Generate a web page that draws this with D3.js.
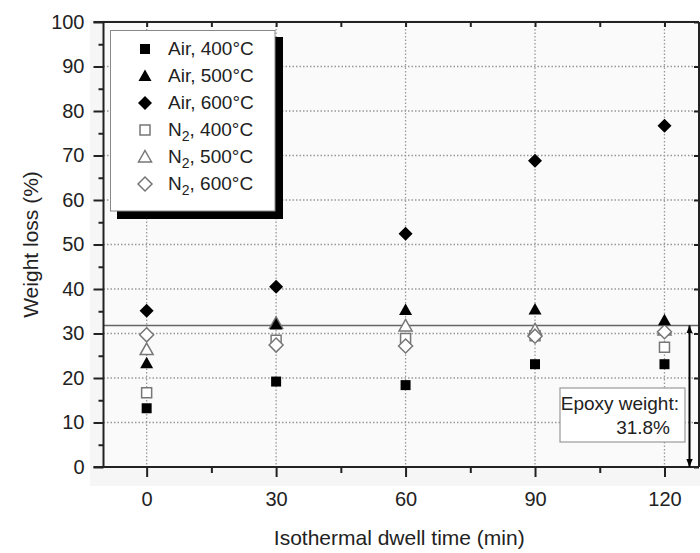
<!DOCTYPE html>
<html>
<head>
<meta charset="utf-8">
<script src="https://cdn.jsdelivr.net/npm/d3@7"></script>
<style>
  html, body { margin: 0; padding: 0; background: #fff; }
  svg { display: block; font-family: "Liberation Sans", Arial, sans-serif; }
</style>
</head>
<body>
<svg id="chart" width="700" height="553"></svg>
<script>
// ---- data ----
const times = [0, 30, 60, 90, 120];
const air400 = [13.2, 19.2, 18.4, 23.1, 23.1];
const air500 = [23.3, 32.0, 35.3, 35.4, 33.0];
const air600 = [35.1, 40.5, 52.4, 68.8, 76.7];
const n2_400 = [16.7, 28.5, 28.9, 29.5, 26.9];
const n2_500 = [26.4, 32.3, 31.7, 30.8, 30.8];
const n2_600 = [29.7, 27.4, 27.2, 29.4, 30.4];
const epoxyWeight = 31.8;
const xTicks = [0, 30, 60, 90, 120];
const xMinorTicks = [15, 45, 75, 105];
const yTicks = [0, 10, 20, 30, 40, 50, 60, 70, 80, 90, 100];
const yMinorTicks = [5, 15, 25, 35, 45, 55, 65, 75, 85, 95];
const xTitle = "Isothermal dwell time (min)";
const yTitle = "Weight loss (%)";

const series = [
  { gas: "Air", temp: "400°C", shape: "square", filled: true, values: air400 },
  { gas: "Air", temp: "500°C", shape: "triangle", filled: true, values: air500 },
  { gas: "Air", temp: "600°C", shape: "diamond", filled: true, values: air600 },
  { gas: "N", sub: "2", temp: "400°C", shape: "square", filled: false, values: n2_400 },
  { gas: "N", sub: "2", temp: "500°C", shape: "triangle", filled: false, values: n2_500 },
  { gas: "N", sub: "2", temp: "600°C", shape: "diamond", filled: false, values: n2_600 }
];

// ---- layout ----
const svg = d3.select("#chart");
const L = 103.5, R = 699, T = 22, B = 467;
const x = d3.scaleLinear().domain([-10, 128]).range([L, R]);
const y = d3.scaleLinear().domain([0, 100]).range([B, T]);
const FONT = "'Liberation Sans', Arial, sans-serif";

// background panel
svg.append("rect").attr("x", 90).attr("y", 20).attr("width", 610).attr("height", 466)
  .attr("fill", "#f6f6f6");
svg.append("rect").attr("x", L).attr("y", T).attr("width", R - L).attr("height", B - T)
  .attr("fill", "#fafafa");

// grid
const grid = svg.append("g").attr("stroke", "#999").attr("stroke-width", 1.3)
  .attr("stroke-dasharray", "1.5,2");
grid.selectAll("line.h").data(yTicks.filter(d => d > 0 && d < 100)).join("line")
  .attr("x1", L).attr("x2", R).attr("y1", d => y(d)).attr("y2", d => y(d));
grid.selectAll("line.v").data(xTicks).join("line")
  .attr("y1", T).attr("y2", B).attr("x1", d => x(d)).attr("x2", d => x(d));

// epoxy line
svg.append("line").attr("x1", L).attr("x2", R).attr("y1", y(epoxyWeight)).attr("y2", y(epoxyWeight))
  .attr("stroke", "#666").attr("stroke-width", 1.3);

// axes
const axisColor = "#222";
const gB = svg.append("g").attr("transform", `translate(0,${B})`)
  .call(d3.axisBottom(x).tickValues(xTicks).tickSize(10).tickPadding(15).tickFormat(d3.format("d")));
const gBm = svg.append("g").attr("transform", `translate(0,${B})`)
  .call(d3.axisBottom(x).tickValues(xMinorTicks).tickSize(6).tickFormat(""));
const gL = svg.append("g").attr("transform", `translate(${L},0)`)
  .call(d3.axisLeft(y).tickValues(yTicks).tickSize(10).tickPadding(9).tickFormat(d3.format("d")));
const gLm = svg.append("g").attr("transform", `translate(${L},0)`)
  .call(d3.axisLeft(y).tickValues(yMinorTicks).tickSize(5).tickFormat(""));
const gT = svg.append("g").attr("transform", `translate(0,${T})`)
  .call(d3.axisBottom(x).tickValues(xTicks.concat(xMinorTicks)).tickSize(5).tickFormat(""));
const gR = svg.append("g").attr("transform", `translate(${R},0)`)
  .call(d3.axisLeft(y).tickValues(yTicks).tickSize(5).tickFormat(""));

[gB, gBm, gL, gLm, gT, gR].forEach(g => {
  g.select(".domain").remove();
  g.selectAll(".tick line").attr("stroke", axisColor).attr("stroke-width", 2);
  g.selectAll(".tick text").attr("fill", "#222").attr("font-size", 20).attr("font-family", FONT);
});
// axis frame lines
svg.append("line").attr("x1", L - 10).attr("x2", R).attr("y1", T).attr("y2", T).attr("stroke", axisColor).attr("stroke-width", 2);
svg.append("line").attr("x1", L).attr("x2", L).attr("y1", T).attr("y2", B).attr("stroke", axisColor).attr("stroke-width", 2);
svg.append("line").attr("x1", L - 10).attr("x2", R).attr("y1", B).attr("y2", B).attr("stroke", axisColor).attr("stroke-width", 2);
svg.append("line").attr("x1", R).attr("x2", R).attr("y1", T).attr("y2", B).attr("stroke", axisColor).attr("stroke-width", 2);

// axis titles
svg.append("text").attr("x", (L + R) / 2 - 2).attr("y", 545).attr("text-anchor", "middle")
  .attr("font-size", 21).attr("fill", "#222").text(xTitle);
svg.append("text").attr("transform", `translate(38,${(T + B) / 2}) rotate(-90)`)
  .attr("text-anchor", "middle").attr("font-size", 21).attr("fill", "#222").text(yTitle);

// marker shapes
function shapePath(shape) {
  if (shape === "square") return "M-5,-5H5V5H-5Z";
  if (shape === "triangle") return "M0,-6.5L6.5,5L-6.5,5Z";
  return "M0,-7L7,0L0,7L-7,0Z";
}
function styleMarker(sel, s) {
  if (s.filled) sel.attr("fill", "#000").attr("stroke", "none");
  else sel.attr("fill", "#fff").attr("stroke", "#777").attr("stroke-width", 1.5);
}

// arrow (epoxy weight)
const defs = svg.append("defs");
defs.append("marker").attr("id", "ah").attr("viewBox", "0 0 10 10").attr("refX", 10).attr("refY", 5)
  .attr("markerWidth", 8).attr("markerHeight", 8).attr("markerUnits", "userSpaceOnUse")
  .attr("orient", "auto-start-reverse")
  .append("path").attr("d", "M0,1L10,5L0,9Z").attr("fill", "#000");

// points (open markers first, filled on top)
const order = [3, 4, 5, 0, 1, 2];
order.forEach(i => {
  const s = series[i];
  const g = svg.append("g");
  g.selectAll("path").data(s.values.map((v, j) => ({ t: times[j], v }))).join("path")
    .attr("d", shapePath(s.shape))
    .attr("transform", d => `translate(${x(d.t)},${y(d.v)})`)
    .call(sel => styleMarker(sel, s));
});

svg.append("line").attr("x1", x(125.8)).attr("x2", x(125.8))
  .attr("y1", y(epoxyWeight)).attr("y2", y(0))
  .attr("stroke", "#000").attr("stroke-width", 2)
  .attr("marker-start", "url(#ah)").attr("marker-end", "url(#ah)");

// epoxy box
const box = svg.append("g");
box.append("rect").attr("x", 560).attr("y", 388).attr("width", 125).attr("height", 54)
  .attr("fill", "#fff").attr("stroke", "#999").attr("stroke-width", 1.2);
box.append("text").attr("x", 679).attr("y", 410).attr("text-anchor", "end")
  .attr("font-size", 19).attr("fill", "#222").text("Epoxy weight:");
box.append("text").attr("x", 670).attr("y", 434).attr("text-anchor", "end")
  .attr("font-size", 19).attr("fill", "#222").text(epoxyWeight + "%");

// legend
const lg = svg.append("g");
lg.append("rect").attr("x", 117).attr("y", 37).attr("width", 166).attr("height", 182).attr("fill", "#000");
lg.append("rect").attr("x", 110.5).attr("y", 30.5).attr("width", 164.5).attr("height", 180.5)
  .attr("fill", "#fff").attr("stroke", "#888").attr("stroke-width", 1);
series.forEach((s, i) => {
  const cy = 49 + i * 27;
  const m = lg.append("path").attr("d", shapePath(s.shape)).attr("transform", `translate(145,${cy})`);
  styleMarker(m, s);
  const t = lg.append("text").attr("x", 168).attr("y", cy + 6).attr("font-size", 19).attr("fill", "#222");
  if (s.sub) {
    t.append("tspan").text(s.gas);
    t.append("tspan").attr("font-size", 14).attr("dy", 5).text(s.sub);
    t.append("tspan").attr("dy", -5).text(", " + s.temp);
  } else {
    t.text(s.gas + ", " + s.temp);
  }
});
</script>
</body>
</html>
